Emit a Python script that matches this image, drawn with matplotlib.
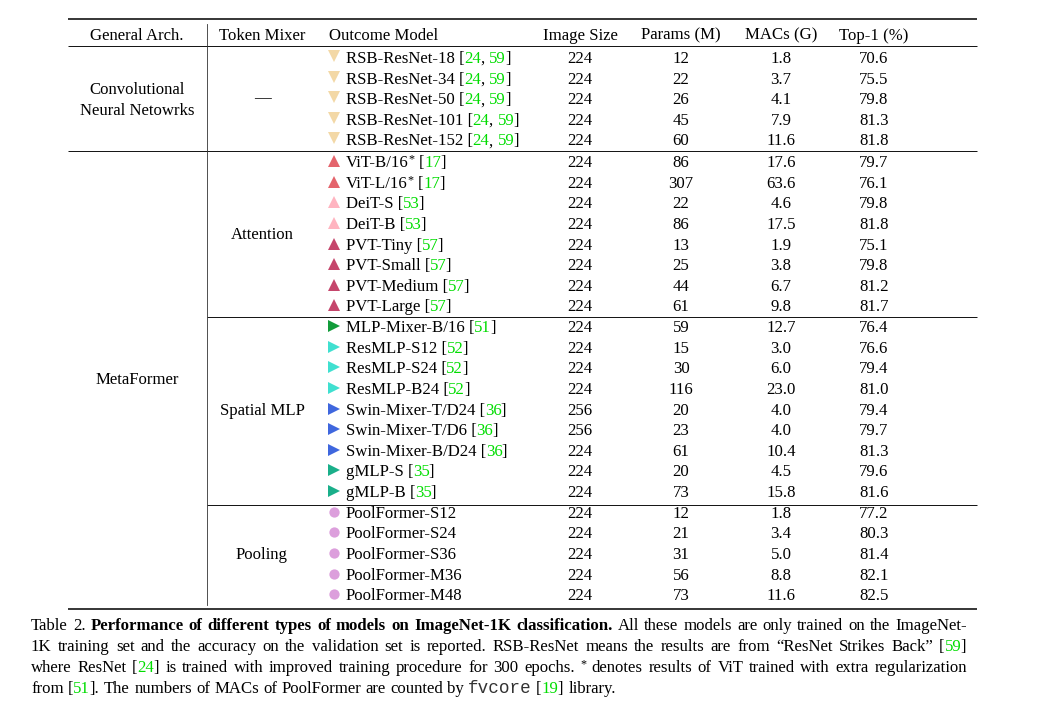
import matplotlib
matplotlib.use("Agg")
import matplotlib.pyplot as plt

# ---------------- data ----------------
headers = ["General Arch.", "Token Mixer", "Outcome Model", "Image Size",
           "Params (M)", "MACs (G)", "Top-1 (%)"]

models = ["RSB-ResNet-18", "RSB-ResNet-34", "RSB-ResNet-50", "RSB-ResNet-101", "RSB-ResNet-152",
          "ViT-B/16", "ViT-L/16", "DeiT-S", "DeiT-B",
          "PVT-Tiny", "PVT-Small", "PVT-Medium", "PVT-Large",
          "MLP-Mixer-B/16", "ResMLP-S12", "ResMLP-S24", "ResMLP-B24",
          "Swin-Mixer-T/D24", "Swin-Mixer-T/D6", "Swin-Mixer-B/D24", "gMLP-S", "gMLP-B",
          "PoolFormer-S12", "PoolFormer-S24", "PoolFormer-S36", "PoolFormer-M36", "PoolFormer-M48"]
starred = ["ViT-B/16", "ViT-L/16"]
citations = [["24", "59"]] * 5 + [["17"]] * 2 + [["53"]] * 2 + [["57"]] * 4 + \
            [["51"]] + [["52"]] * 3 + [["36"]] * 3 + [["35"]] * 2 + [[]] * 5
families = ["RSB"] * 5 + ["ViT"] * 2 + ["DeiT"] * 2 + ["PVT"] * 4 + ["Mixer"] + \
           ["ResMLP"] * 3 + ["Swin"] * 3 + ["gMLP"] * 2 + ["Pool"] * 5
image_size = [224] * 17 + [256, 256, 224] + [224] * 7
params = [12, 22, 26, 45, 60, 86, 307, 22, 86, 13, 25, 44, 61,
          59, 15, 30, 116, 20, 23, 61, 20, 73, 12, 21, 31, 56, 73]
macs = ["1.8", "3.7", "4.1", "7.9", "11.6", "17.6", "63.6", "4.6", "17.5", "1.9", "3.8", "6.7", "9.8",
        "12.7", "3.0", "6.0", "23.0", "4.0", "4.0", "10.4", "4.5", "15.8",
        "1.8", "3.4", "5.0", "8.8", "11.6"]
top1 = ["70.6", "75.5", "79.8", "81.3", "81.8", "79.7", "76.1", "79.8", "81.8", "75.1", "79.8", "81.2", "81.7",
        "76.4", "76.6", "79.4", "81.0", "79.4", "79.7", "81.3", "79.6", "81.6",
        "77.2", "80.3", "81.4", "82.1", "82.5"]

arch_groups = [("Convolutional\nNeural Netowrks", 0, 4), ("MetaFormer", 5, 26)]
mixer_groups = [("\u2014", 0, 4), ("Attention", 5, 12), ("Spatial MLP", 13, 21), ("Pooling", 22, 26)]

caption_lines = [
    [("n", "Table 2. "), ("b", "Performance of different types of models on ImageNet-1K classification."),
     ("n", " All these models are only trained on the ImageNet-")],
    [("n", "1K training set and the accuracy on the validation set is reported. RSB-ResNet means the results are from \u201cResNet Strikes Back\u201d ["),
     ("g", "59"), ("n", "]")],
    [("n", "where ResNet ["), ("g", "24"), ("n", "] is trained with improved training procedure for 300 epochs. "),
     ("s", "*"), ("n", " denotes results of ViT trained with extra regularization")],
    [("n", "from ["), ("g", "51"), ("n", "]. The numbers of MACs of PoolFormer are counted by "),
     ("m", "fvcore"), ("n", " ["), ("g", "19"), ("n", "] library.")],
]

# ---------------- styles ----------------
marker_style = {
    "RSB": ("v", "#f3d8a6"), "ViT": ("^", "#e4646c"), "DeiT": ("^", "#ffb4c0"),
    "PVT": ("^", "#c5466c"), "Mixer": (">", "#129c3a"), "ResMLP": (">", "#40e0d0"),
    "Swin": (">", "#3f67de"), "gMLP": (">", "#1aaf8a"), "Pool": ("o", "#dc9fdc"),
}
SERIF = "Liberation Serif"
FS = 12.1
GREEN = "#00dd00"
text_props = {
    "n": dict(family=SERIF, size=FS, color="black"),
    "b": dict(family=SERIF, size=FS, color="black", weight="bold"),
    "g": dict(family=SERIF, size=FS, color=GREEN),
    "m": dict(family="Liberation Mono", size=FS * 1.05, color="#333333"),
    "s": dict(family=SERIF, size=FS * 0.72, color="black"),
}
metric_style = {"n": "n", "g": "n", "b": "b", "m": "m", "s": "s"}
BRACKET_KERN = 0.9  # tighten "]" after a green citation number

fig = plt.figure(figsize=(10.4, 7.08), dpi=100)
ax = fig.add_axes([0, 0, 1, 1])
ax.set_xlim(0, 1040)
ax.set_ylim(708, 0)
ax.axis("off")
renderer = fig.canvas.get_renderer()

_wcache = {}


def width(s, style="n"):
    key = (s, style)
    if key not in _wcache:
        t = ax.text(0, 0, s, **text_props[style])
        _wcache[key] = t.get_window_extent(renderer=renderer).width
        t.remove()
    return _wcache[key]


def adv(s, style="n"):
    """Pen advance of a string."""
    return width("|" + s + "|", style) - width("||", style)


SPACE = adv(" ")


def draw_runs(x0, y, runs):
    """Draw runs sharing one font metric, pen origin at x0; returns pen end."""
    ms = metric_style[runs[0][0]]
    full = "".join(t for _, t in runs)
    pos = 0
    prev = None
    for s, t in runs:
        x = x0 + (adv(full[:pos], ms) if pos else 0.0)
        if prev == "g" and t.startswith("]"):
            x -= BRACKET_KERN
        dy = -4.5 if s == "s" else 0
        ax.text(x, y + dy, t, va="baseline", ha="left", **text_props[s])
        pos += len(t)
        prev = s
    return x0 + adv(full, ms)


# ---------------- layout ----------------
L, R = 68, 977
VX = 207
row0, step = 63.0, 20.62


def row_base(i):
    return row0 + i * step + (1.0 if i >= 5 else 0.0)


col_center = {"arch": 137, "mixer": 262, "img": 580, "params": 681, "macs": 781, "top1": 874}
header_base = 39.5

# rules
ax.plot([L, R], [19, 19], color="black", lw=1.1, solid_capstyle="butt")
ax.plot([L, R], [46, 46], color="black", lw=0.65, solid_capstyle="butt")
ax.plot([L, R], [151, 151], color="black", lw=0.65, solid_capstyle="butt")
ax.plot([VX, R], [317, 317], color="black", lw=0.65, solid_capstyle="butt")
ax.plot([VX, R], [505, 505], color="black", lw=0.65, solid_capstyle="butt")
ax.plot([L, R], [609, 609], color="black", lw=1.1, solid_capstyle="butt")
ax.plot([VX, VX], [24, 605], color="#333333", lw=0.6)

# headers
hx = [col_center["arch"], col_center["mixer"], None, col_center["img"],
      col_center["params"], col_center["macs"], col_center["top1"]]
for h, x in zip(headers, hx):
    if x is None:
        ax.text(329, header_base, h, va="baseline", ha="left", **text_props["n"])
    else:
        ax.text(x, header_base, h, va="baseline", ha="center", **text_props["n"])

# group labels
for label, a, b in arch_groups:
    lines = label.split("\n")
    mid = (row_base(a) + row_base(b)) / 2
    n = len(lines)
    for k, ln in enumerate(lines):
        y = mid + (k - (n - 1) / 2) * 20.6
        ax.text(col_center["arch"], y, ln, va="baseline", ha="center", **text_props["n"])
for label, a, b in mixer_groups:
    mid = (row_base(a) + row_base(b)) / 2
    if label == "\u2014":
        mid -= 2
    ax.text(col_center["mixer"], mid, label, va="baseline", ha="center", **text_props["n"])

# rows
for i, m in enumerate(models):
    yb = row_base(i)
    mk, col = marker_style[families[i]]
    dy = -7 if mk == "v" else -6
    ms = 7.4 if mk == "o" else 8
    ax.plot([334], [yb + dy], marker=mk, color=col, markersize=ms, markeredgewidth=0, linestyle="none")
    x0 = 345.5
    cites = citations[i]
    if m in starred:
        xe = draw_runs(x0, yb, [("n", m)])
        xe = draw_runs(xe + 0.5, yb, [("s", "*")])
        runs = [("n", "[")]
        start = xe + SPACE
    else:
        runs = [("n", m + (" [" if cites else ""))]
        start = x0
    for k, c in enumerate(cites):
        if k > 0:
            runs.append(("n", ", "))
        runs.append(("g", c))
    if cites:
        runs.append(("n", "]"))
    draw_runs(start, yb, runs)
    ax.text(col_center["img"], yb, str(image_size[i]), va="baseline", ha="center", **text_props["n"])
    ax.text(col_center["params"], yb, str(params[i]), va="baseline", ha="center", **text_props["n"])
    ax.text(col_center["macs"], yb, macs[i], va="baseline", ha="center", **text_props["n"])
    ax.text(col_center["top1"], yb, top1[i], va="baseline", ha="center", **text_props["n"])


# caption (justified)
def split_words(segs):
    words = [[]]
    for style, txt in segs:
        parts = txt.split(" ")
        for k, p in enumerate(parts):
            if k > 0:
                words.append([])
            if p:
                words[-1].append((style, p))
    return [w for w in words if w]


CL, CR = 31, 967
cap_base = 630.5
for li, segs in enumerate(caption_lines):
    words = split_words(segs)
    widths = [adv("".join(t for _, t in w), metric_style[w[0][0]]) for w in words]
    if li < len(caption_lines) - 1:
        gap = (CR - CL - sum(widths)) / (len(words) - 1)
    else:
        gap = SPACE
    x = CL
    yb = cap_base + li * 20.8
    for w, ww in zip(words, widths):
        draw_runs(x, yb, w)
        x += ww + gap

fig.savefig("out.png", dpi=100)
